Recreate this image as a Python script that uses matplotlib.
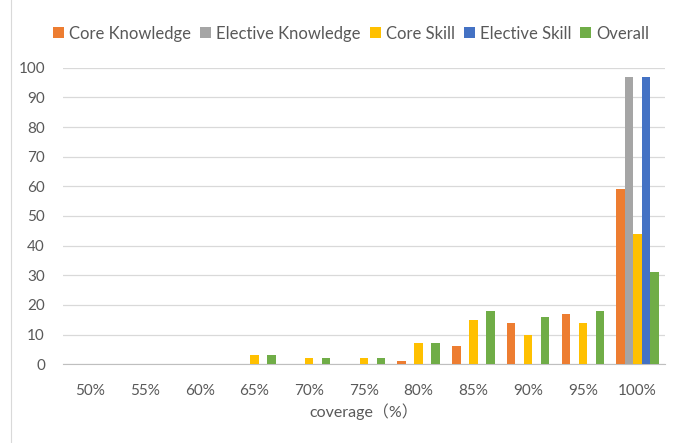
import numpy as np
import matplotlib.pyplot as plt
from matplotlib.lines import Line2D

# Categories and series values
categories = ['50%', '55%', '60%', '65%', '70%', '75%', '80%', '85%', '90%', '95%', '100%']
core_knowledge = [0, 0, 0, 0, 0, 0, 1, 6, 14, 17, 59]
elective_knowledge = [0, 0, 0, 0, 0, 0, 0, 0, 0, 0, 97]
core_skill = [0, 0, 0, 3, 2, 2, 7, 15, 10, 14, 44]
elective_skill = [0, 0, 0, 0, 0, 0, 0, 0, 0, 0, 97]
overall = [0, 0, 0, 3, 2, 2, 7, 18, 16, 18, 31]

series = [
    ('Core Knowledge', core_knowledge, '#ED7D31'),
    ('Elective Knowledge', elective_knowledge, '#A5A5A5'),
    ('Core Skill', core_skill, '#FFC000'),
    ('Elective Skill', elective_skill, '#4472C4'),
    ('Overall', overall, '#70AD47'),
]

plt.rcParams['font.family'] = ['Lato', 'Noto Sans CJK SC', 'DejaVu Sans']
txt = '#595959'

fig = plt.figure(figsize=(6.73, 4.43), dpi=100)
ax = fig.add_axes([0.0936, 0.178, 0.8944, 0.669])

x = np.arange(len(categories))
w = 0.155
for i, (name, vals, col) in enumerate(series):
    ax.bar(x + (i - 2) * w, vals, w, color=col, label=name, zorder=3)

ax.set_xlim(-0.5, len(categories) - 0.5)
ax.set_ylim(0, 100)
ax.set_yticks(range(0, 101, 10))
ax.set_xticks(x)
ax.set_xticklabels(categories)
ax.tick_params(length=0, labelsize=11, colors=txt, pad=14)
ax.tick_params(axis='y', pad=13)
ax.grid(axis='y', color='#D9D9D9', linewidth=0.9, zorder=0)
for s in ['top', 'right', 'left']:
    ax.spines[s].set_visible(False)
ax.spines['bottom'].set_color('#BFBFBF')
ax.set_xlabel('coverage（%）', fontsize=11.5, color=txt, labelpad=4)

leg = fig.legend(loc='center', bbox_to_anchor=(0.522, 0.924), ncol=5, frameon=False,
                 fontsize=12, handlelength=0.65, handleheight=0.65, handletextpad=0.3,
                 columnspacing=0.55)
for t in leg.get_texts():
    t.set_color(txt)

# thin left border line of the chart frame
fig.add_artist(Line2D([11 / 673, 11 / 673], [0, 1], transform=fig.transFigure,
                      color='#D9D9D9', linewidth=0.8))

fig.savefig('out.png', dpi=100)
